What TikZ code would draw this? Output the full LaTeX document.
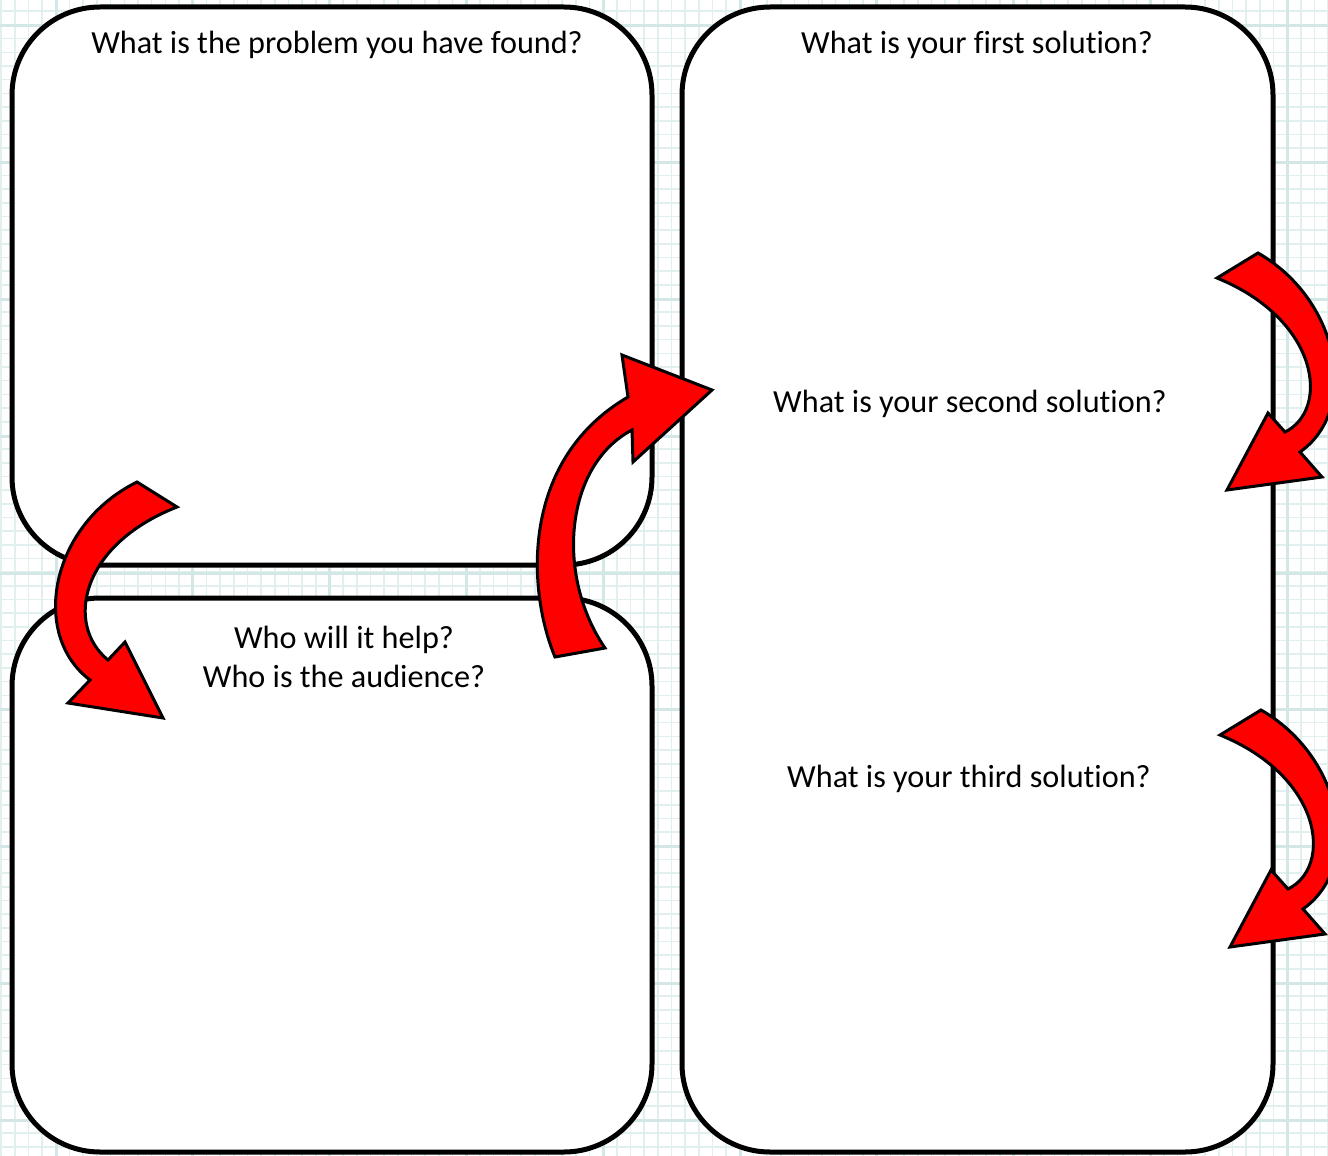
\documentclass[tikz,border=0pt]{standalone}
\usepackage{fontspec}
\setmainfont[Ligatures=NoCommon]{Carlito}
\usepackage{tikz}
\usetikzlibrary{positioning}
\definecolor{gridcyan}{HTML}{E2EFEF}
\definecolor{gridmajor}{HTML}{D3E7E6}
\definecolor{arrowred}{HTML}{FE0000}
\tikzset{
  every picture/.style = {
    x = 1pt,
    y = -1pt,
  }
  ,
  minor-line/.style = {
    draw = gridcyan,
    line width = 1.6pt
  }
  ,
  major-line/.style = {
    draw = gridmajor,
    line width = 3pt
  }
  , % the three answer panels
  panel/.style = {
    draw,
    fill = white,
    line width = 5pt,
    rounded corners = 88pt
  }
  , % questions printed in the panels
  question/.style = {
    font = \fontsize{32.2}{39}\selectfont,
    align = center,
    anchor = base,
    inner sep = 0pt
  }
  , % the red bent arrows
  bent-arrow/.style = {
    draw,
    fill = arrowred,
    line width = 3pt,
    line join = miter
  }
}

\begin{document}
\begin{tikzpicture}
\useasboundingbox (0,0) rectangle (1328,1156);
\clip (0,0) rectangle (1328,1156);
% squared paper
\fill[white] (0,0) rectangle (1328,1156);
\foreach \i in {0,...,97} \draw[minor-line] ({1.2+13.68*\i},0) -- ++(0,1156);
\foreach \i in {0,...,85} \draw[minor-line] (0,{11.3+13.68*\i}) -- ++(1328,0);
\foreach \i in {0,...,9} \draw[major-line] ({56+136.8*\i},0) -- ++(0,1156);
\foreach \i in {0,...,8} \draw[major-line] (0,{25.8+136.8*\i}) -- ++(1328,0);

% panels
\draw[panel] (12,7) rectangle (652,565);
\draw[panel] (12,598) rectangle (652,1152);
\draw[panel] (682,7) rectangle (1273,1152);

% questions
\node[question] (problem) at (337,54) {What is the problem you have found?};
\node[question] (first) at (977,54) {What is your first solution?};
\node[question] (second) at (970,412) {What is your second solution?};
\node[question] (third) at (969,787) {What is your third solution?};
\node[question] (help) at (344,648) {Who will it help?};
\node[question] (audience) at (344,687) {Who is the audience?};

% arrows
\draw[bent-arrow] (137,482) .. controls (50,525) and (30,635) .. (90,680)
  -- (68,703) -- (163,718) -- (125,642) -- (108,660)
  .. controls (65,625) and (80,545) .. (177,507) -- cycle;
\draw[bent-arrow] (555,657) .. controls (527,590) and (520,460) .. (628,397)
  -- (622,355) -- (712,390) -- (633,462) -- (632,430)
  .. controls (565,465) and (555,575) .. (605,648) -- cycle;
\foreach \dx/\dy in {0/0,3/457}
  \draw[bent-arrow, shift = {(\dx,\dy)}] (1217,278) -- (1258,253)
    .. controls (1340,300) and (1360,410) .. (1300,452)
    -- (1322,477) -- (1227,490) -- (1268,413) -- (1285,432)
    .. controls (1330,410) and (1320,320) .. (1217,278) -- cycle;
\end{tikzpicture}
\end{document}
